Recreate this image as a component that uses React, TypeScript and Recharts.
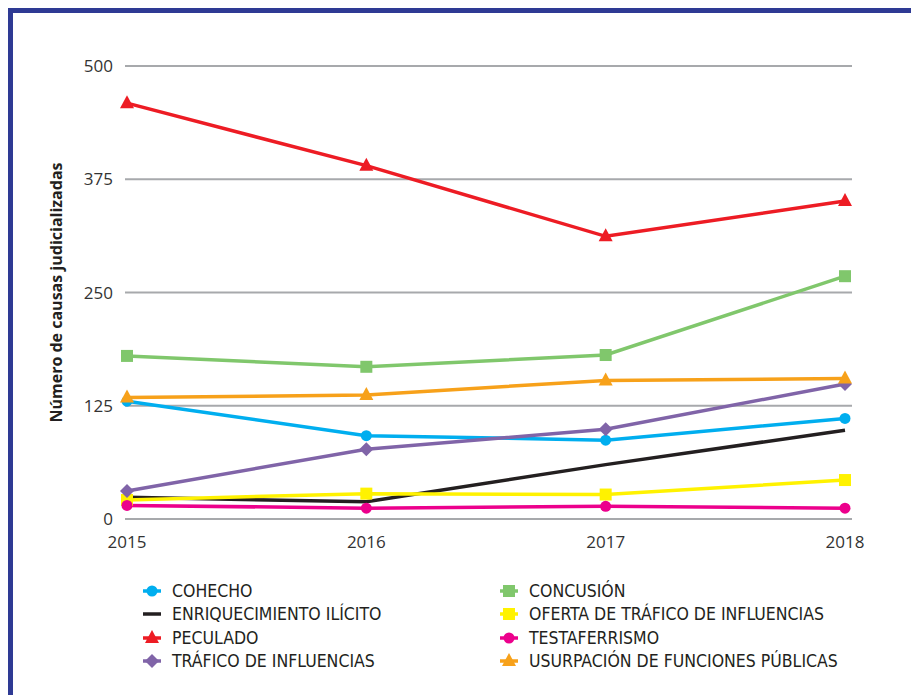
import React from "react";
import { CartesianGrid, Line, LineChart, XAxis, YAxis } from "recharts";

const YEARS = ["2015", "2016", "2017", "2018"];
const COHECHO = [130, 92, 87, 111];
const CONCUSION = [180, 168, 181, 268];
const ENRIQUECIMIENTO = [24, 19, 60, 98];
const OFERTA = [21, 28, 27, 43];
const PECULADO = [459, 390, 312, 351];
const TESTAFERRISMO = [15, 12, 14, 12];
const TRAFICO = [31, 77, 99, 149];
const USURPACION = [134, 137, 153, 155];
const Y_TICKS = [0, 125, 250, 375, 500];

type Shape = "circle" | "square" | "triangle" | "diamond" | "none";
type Series = { key: string; name: string; color: string; shape: Shape; values: number[] };

const SERIES: Series[] = [
  { key: "cohecho", name: "COHECHO", color: "#00aeef", shape: "circle", values: COHECHO },
  { key: "concusion", name: "CONCUSIÓN", color: "#80c76c", shape: "square", values: CONCUSION },
  { key: "enriq", name: "ENRIQUECIMIENTO ILÍCITO", color: "#231f20", shape: "none", values: ENRIQUECIMIENTO },
  { key: "oferta", name: "OFERTA DE TRÁFICO DE INFLUENCIAS", color: "#fff200", shape: "square", values: OFERTA },
  { key: "peculado", name: "PECULADO", color: "#ed1c24", shape: "triangle", values: PECULADO },
  { key: "testa", name: "TESTAFERRISMO", color: "#ec008c", shape: "circle", values: TESTAFERRISMO },
  { key: "trafico", name: "TRÁFICO DE INFLUENCIAS", color: "#8064a8", shape: "diamond", values: TRAFICO },
  { key: "usurpacion", name: "USURPACIÓN DE FUNCIONES PÚBLICAS", color: "#f7a11a", shape: "triangle", values: USURPACION },
];

const rows = YEARS.map((year, i) => {
  const row: Record<string, string | number> = { year };
  SERIES.forEach((s) => (row[s.key] = s.values[i]));
  return row;
});

function marker(shape: Shape, color: string, cx: number, cy: number, k?: string) {
  if (shape === "circle") return <circle key={k} cx={cx} cy={cy} r={5.5} fill={color} />;
  if (shape === "square") return <rect key={k} x={cx - 6} y={cy - 6} width={12} height={12} fill={color} />;
  if (shape === "triangle")
    return <polygon key={k} points={`${cx},${cy - 8} ${cx + 7},${cy + 5} ${cx - 7},${cy + 5}`} fill={color} />;
  if (shape === "diamond")
    return <polygon key={k} points={`${cx},${cy - 7} ${cx + 7},${cy} ${cx},${cy + 7} ${cx - 7},${cy}`} fill={color} />;
  return <g key={k} />;
}

const makeDot = (s: Series) => (props: any) => marker(s.shape, s.color, props.cx, props.cy, `${s.key}-${props.index}`);

const FONT = "'Open Sans', sans-serif";
const LEGEND_FONT = "'Liberation Sans Narrow', 'DejaVu Sans Condensed', 'Open Sans', sans-serif";

function LegendItem({ s }: { s: Series }) {
  return (
    <div style={{ display: "flex", alignItems: "center", height: 23.5 }}>
      <svg width={18} height={16} style={{ marginRight: 11 }}>
        <line x1={0} y1={8} x2={18} y2={8} stroke={s.color} strokeWidth={3.5} />
        {s.shape === "none" ? null : marker(s.shape, s.color, 9, 8)}
      </svg>
      <span style={{ fontFamily: LEGEND_FONT, fontSize: 17.5, color: "#231f20" }}>{s.name}</span>
    </div>
  );
}

export default function App() {
  return (
    <div
      style={{
        position: "relative",
        width: 906,
        height: 682,
        borderTop: "5px solid #2e3a94",
        borderLeft: "5px solid #2e3a94",
        overflow: "hidden",
        background: "#fff",
      }}
    >
      <LineChart width={906} height={682} data={rows} margin={{ top: 53, right: 67, left: 0, bottom: 146 }}>
        <CartesianGrid vertical={false} stroke="#a7a9ac" strokeWidth={2} />
        <XAxis
          dataKey="year"
          axisLine={false}
          tickLine={false}
          tickSize={0}
          tickMargin={17}
          height={30}
          padding={{ left: 2, right: 7 }}
          tick={{ fontSize: 17, fill: "#333", fontFamily: FONT }}
        />
        <YAxis
          domain={[0, 500]}
          ticks={Y_TICKS}
          axisLine={false}
          tickLine={false}
          tickSize={0}
          tickMargin={12}
          width={112}
          tick={{ fontSize: 17, fill: "#333", fontFamily: FONT }}
          label={{
            value: "Número de causas judicializadas",
            angle: -90,
            position: "insideLeft",
            offset: 43,
            style: { textAnchor: "middle", fontSize: 16, fontWeight: 700, fill: "#231f20", fontFamily: FONT },
          }}
        />
        {SERIES.map((s) => (
          <Line
            key={s.key}
            dataKey={s.key}
            name={s.name}
            type="linear"
            stroke={s.color}
            strokeWidth={3.5}
            dot={s.shape === "none" ? false : makeDot(s)}
            activeDot={false}
            isAnimationActive={false}
          />
        ))}
      </LineChart>
      <div
        style={{
          position: "absolute",
          left: 130,
          top: 566,
          display: "grid",
          gridTemplateColumns: "357px 360px",
        }}
      >
        {SERIES.map((s) => (
          <LegendItem key={s.key} s={s} />
        ))}
      </div>
    </div>
  );
}
